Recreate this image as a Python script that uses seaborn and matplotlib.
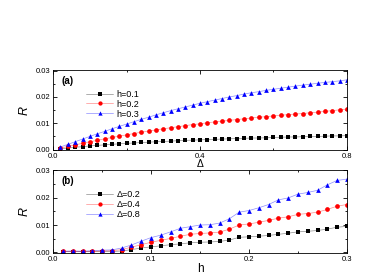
import numpy as np
import pandas as pd
import matplotlib
matplotlib.use("Agg")
import matplotlib.pyplot as plt
import seaborn as sns
from matplotlib.ticker import MultipleLocator, FormatStrFormatter

# panel (a): R vs Delta
delta = [0.02, 0.04, 0.06, 0.08, 0.10, 0.12, 0.14, 0.16, 0.18, 0.20,
         0.22, 0.24, 0.26, 0.28, 0.30, 0.32, 0.34, 0.36, 0.38, 0.40,
         0.42, 0.44, 0.46, 0.48, 0.50, 0.52, 0.54, 0.56, 0.58, 0.60,
         0.62, 0.64, 0.66, 0.68, 0.70, 0.72, 0.74, 0.76, 0.78, 0.80]
r_h01 = [0.0003, 0.0006, 0.0009, 0.0011, 0.0014, 0.0016, 0.0018, 0.0020, 0.0022, 0.0024,
         0.0025, 0.0027, 0.0028, 0.0030, 0.0031, 0.0032, 0.0034, 0.0035, 0.0036, 0.0037,
         0.0038, 0.0039, 0.0040, 0.0041, 0.0042, 0.0043, 0.0044, 0.0044, 0.0045, 0.0046,
         0.0047, 0.0048, 0.0048, 0.0049, 0.0050, 0.0050, 0.0051, 0.0052, 0.0052, 0.0053]
r_h02 = [0.0006, 0.0012, 0.0018, 0.0024, 0.0030, 0.0035, 0.0041, 0.0046, 0.0051, 0.0056,
         0.0061, 0.0066, 0.0070, 0.0075, 0.0079, 0.0083, 0.0087, 0.0091, 0.0095, 0.0098,
         0.0102, 0.0105, 0.0108, 0.0111, 0.0114, 0.0117, 0.0120, 0.0123, 0.0125, 0.0128,
         0.0130, 0.0133, 0.0135, 0.0137, 0.0140, 0.0142, 0.0145, 0.0148, 0.0151, 0.0154]
r_h03 = [0.0010, 0.0020, 0.0030, 0.0040, 0.0050, 0.0060, 0.0069, 0.0079, 0.0088, 0.0097,
         0.0106, 0.0115, 0.0123, 0.0132, 0.0140, 0.0148, 0.0155, 0.0162, 0.0169, 0.0176,
         0.0182, 0.0188, 0.0194, 0.0200, 0.0205, 0.0211, 0.0216, 0.0220, 0.0225, 0.0229,
         0.0233, 0.0237, 0.0241, 0.0245, 0.0248, 0.0252, 0.0255, 0.0258, 0.0261, 0.0265]

# panel (b): R vs h
h = [0.01, 0.02, 0.03, 0.04, 0.05, 0.06, 0.07, 0.08, 0.09, 0.10,
     0.11, 0.12, 0.13, 0.14, 0.15, 0.16, 0.17, 0.18, 0.19, 0.20,
     0.21, 0.22, 0.23, 0.24, 0.25, 0.26, 0.27, 0.28, 0.29, 0.30]
r_d02 = [0.0003, 0.0003, 0.0003, 0.0003, 0.0003, 0.0003, 0.0005, 0.0010, 0.0016, 0.0020,
         0.0024, 0.0028, 0.0031, 0.0035, 0.0037, 0.0038, 0.0040, 0.0045, 0.0055, 0.0057,
         0.0059, 0.0062, 0.0066, 0.0070, 0.0075, 0.0077, 0.0080, 0.0085, 0.0092, 0.0095]
r_d04 = [0.0004, 0.0004, 0.0004, 0.0004, 0.0005, 0.0006, 0.0010, 0.0019, 0.0028, 0.0037,
         0.0044, 0.0051, 0.0059, 0.0066, 0.0069, 0.0071, 0.0074, 0.0085, 0.0100, 0.0104,
         0.0110, 0.0117, 0.0125, 0.0130, 0.0139, 0.0142, 0.0147, 0.0157, 0.0169, 0.0175]
r_d08 = [0.0004, 0.0005, 0.0004, 0.0006, 0.0008, 0.0009, 0.0016, 0.0027, 0.0041, 0.0054,
         0.0063, 0.0075, 0.0088, 0.0094, 0.0100, 0.0101, 0.0107, 0.0123, 0.0147, 0.0153,
         0.0163, 0.0175, 0.0192, 0.0199, 0.0213, 0.0219, 0.0227, 0.0247, 0.0263, 0.0268]

labels_a = ["h=0.1", "h=0.2", "h=0.3"]
labels_b = ["\u0394=0.2", "\u0394=0.4", "\u0394=0.8"]
colors = ["black", "red", "blue"]
markers = ["s", "o", "^"]

sns.set_style("ticks")
plt.rcParams['font.family'] = ['Liberation Sans', 'DejaVu Sans']
plt.rcParams['text.color'] = 'black'
plt.rcParams['xtick.color'] = 'black'
plt.rcParams['ytick.color'] = 'black'
plt.rcParams['axes.edgecolor'] = 'black'
plt.rcParams['axes.labelcolor'] = 'black'

fig = plt.figure(figsize=(3.88, 2.77), dpi=100)
ax1 = fig.add_axes([0.137, 0.458, 0.757, 0.289])
ax2 = fig.add_axes([0.137, 0.087, 0.757, 0.300])


def draw(ax, x, ys, labels):
    for y, lab, c, m in zip(ys, labels, colors, markers):
        sns.lineplot(x=x, y=y, ax=ax, color=c, marker=m, markersize=3.4,
                     markeredgewidth=0, linewidth=0.5, label=lab)
        ln = ax.get_lines()[-1]
        ln.set_color((*matplotlib.colors.to_rgb(c), 0.45))
        ln.set_markerfacecolor(c)
        ln.set_markeredgecolor(c)
    ax.set_ylim(-0.0002, 0.0302)
    ax.yaxis.set_major_locator(MultipleLocator(0.01))
    ax.yaxis.set_minor_locator(MultipleLocator(0.005))
    ax.yaxis.set_major_formatter(FormatStrFormatter('%.2f'))
    ax.tick_params(which='both', direction='in', top=True, right=True,
                   labelsize=5.5, width=0.6, pad=2)
    ax.tick_params(which='major', length=3)
    ax.tick_params(which='minor', length=1.5)
    for s in ax.spines.values():
        s.set_linewidth(0.6)
    ax.set_ylabel("R", fontstyle='italic', fontsize=9, labelpad=4)
    ax.legend(loc='upper left', bbox_to_anchor=(0.1, 0.8), frameon=False,
              fontsize=6.5, handlelength=3.0, handletextpad=0.4,
              labelspacing=0.1, borderaxespad=0, markerscale=0.9)


draw(ax1, delta, [r_h01, r_h02, r_h03], labels_a)
ax1.set_xlim(0.0, 0.8)
ax1.xaxis.set_major_locator(MultipleLocator(0.4))
ax1.xaxis.set_minor_locator(MultipleLocator(0.2))
ax1.set_xlabel("\u0394", fontsize=7.5, labelpad=-1)
ax1.text(0.03, 0.93, "(a)", transform=ax1.transAxes, fontsize=7,
         fontweight='bold', va='top')

draw(ax2, h, [r_d02, r_d04, r_d08], labels_b)
ax2.set_xlim(0.0, 0.3)
ax2.xaxis.set_major_locator(MultipleLocator(0.1))
ax2.xaxis.set_minor_locator(MultipleLocator(0.05))
ax2.set_xlabel("h", fontsize=8.5, labelpad=0)
ax2.text(0.03, 0.93, "(b)", transform=ax2.transAxes, fontsize=7,
         fontweight='bold', va='top')

fig.savefig("out.png", dpi=100)
